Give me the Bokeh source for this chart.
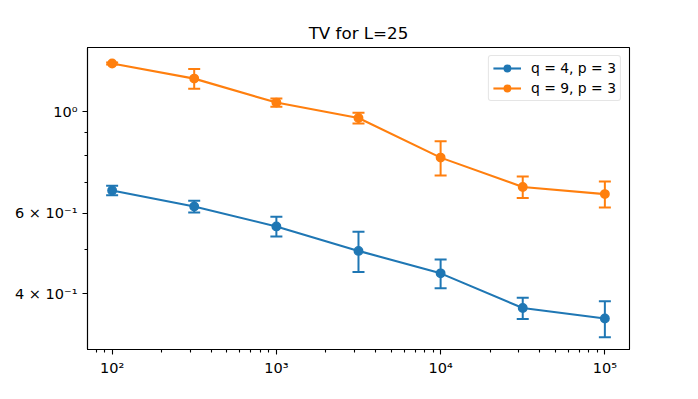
from bokeh.plotting import figure
from bokeh.models import (Range1d, FixedTicker, Whisker, TeeHead, ColumnDataSource,
                          Legend, LegendItem)
from bokeh.embed import file_html
from bokeh.resources import INLINE

# ---- data ----
steps = [100, 316, 1000, 3162, 10000, 31623, 100000]
tv_q4 = [0.672, 0.620, 0.561, 0.496, 0.443, 0.372, 0.353]
err_q4 = [0.016, 0.018, 0.028, 0.050, 0.032, 0.020, 0.032]
tv_q9 = [1.273, 1.180, 1.046, 0.968, 0.793, 0.684, 0.660]
err_q9 = [0.006, 0.059, 0.022, 0.026, 0.068, 0.037, 0.043]
series_labels = ["q = 4, p = 3", "q = 9, p = 3"]
series_colors = ["#1f77b4", "#ff7f0e"]
title_text = "TV for L=25"

x_major = [100, 1000, 10000, 100000]
x_major_labels = ["10²", "10³", "10⁴", "10⁵"]
y_major = [0.4, 0.6, 1.0]
y_major_labels = ["4 × 10⁻¹", "6 × 10⁻¹", "10⁰"]
y_minor = [0.3, 0.5, 0.7, 0.8, 0.9]

FONT = "DejaVu Sans"

p = figure(width=690, height=391, x_axis_type="log", y_axis_type="log",
           output_backend="svg", toolbar_location=None,
           x_range=Range1d(70.8, 141254), y_range=Range1d(0.302, 1.38),
           min_border_left=87, min_border_right=61, min_border_top=47,
           min_border_bottom=42)
p.background_fill_color = "white"
p.border_fill_color = "white"
p.outline_line_color = "black"
p.outline_line_width = 1.1
p.xgrid.visible = False
p.ygrid.visible = False

p.title.text = title_text
p.title.text_font = FONT
p.title.text_font_size = "16.7px"
p.title.text_font_style = "normal"
p.title.align = "center"
p.title.text_color = "black"

x_minor = [m * d for d in [10, 100, 1000, 10000] for m in range(2, 10)
           if 70.8 <= m * d <= 141254]
p.xaxis.ticker = FixedTicker(ticks=x_major, minor_ticks=x_minor)
p.xaxis.major_label_overrides = dict(zip(x_major, x_major_labels))
p.yaxis.ticker = FixedTicker(ticks=y_major, minor_ticks=y_minor)
p.yaxis.major_label_overrides = dict(zip(y_major, y_major_labels))

for ax in (p.xaxis, p.yaxis):
    ax.axis_line_color = "black"
    ax.axis_line_width = 1.1
    ax.major_tick_line_color = "black"
    ax.major_tick_line_width = 1.1
    ax.minor_tick_line_color = "black"
    ax.minor_tick_line_width = 1.1
    ax.major_tick_in = 0
    ax.major_tick_out = 5
    ax.minor_tick_in = 0
    ax.minor_tick_out = 3
    ax.major_label_text_font = FONT
    ax.major_label_text_font_size = "14.5px"
    ax.major_label_text_color = "black"
    ax.major_label_standoff = 5

items = []
for ys, es, lab, col in [(tv_q4, err_q4, series_labels[0], series_colors[0]),
                         (tv_q9, err_q9, series_labels[1], series_colors[1])]:
    src = ColumnDataSource(dict(x=steps, y=ys,
                                lo=[a - b for a, b in zip(ys, es)],
                                hi=[a + b for a, b in zip(ys, es)]))
    ln = p.line("x", "y", source=src, line_color=col, line_width=2.1)
    w = Whisker(base="x", lower="lo", upper="hi", source=src,
                line_color=col, line_width=2.0,
                upper_head=TeeHead(size=12, line_color=col, line_width=2.0),
                lower_head=TeeHead(size=12, line_color=col, line_width=2.0))
    p.add_layout(w)
    sc = p.scatter("x", "y", source=src, size=8.5, fill_color=col,
                   line_color=col, line_width=1.4)
    items.append(LegendItem(label=lab, renderers=[ln, sc]))

legend = Legend(items=items, location="top_right")
legend.label_text_font = FONT
legend.label_text_font_size = "13.9px"
legend.label_text_color = "black"
legend.border_line_color = "#cccccc"
legend.border_line_width = 1
legend.border_radius = 3
legend.background_fill_alpha = 0.8
legend.margin = 8
legend.padding = 4
legend.spacing = 4
legend.glyph_width = 28
legend.glyph_height = 16
legend.label_height = 16
legend.label_standoff = 10
p.add_layout(legend)

open("out.html", "w").write(file_html(p, INLINE))
